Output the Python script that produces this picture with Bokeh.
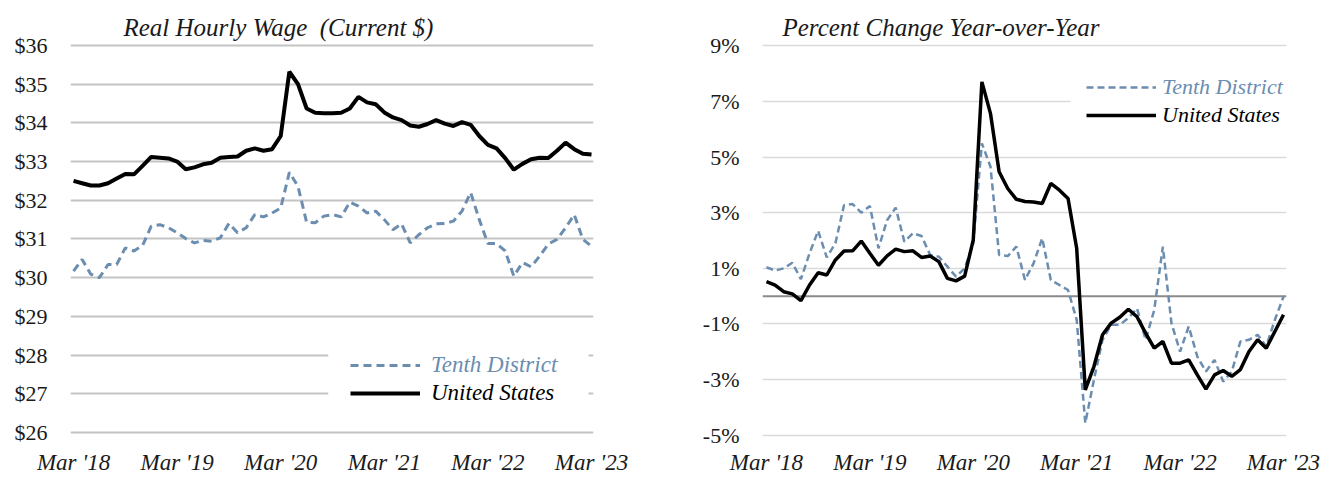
import pandas as pd
from bokeh.plotting import figure
from bokeh.models import (Legend, LegendItem, Span, BoxAnnotation, FixedTicker,
                          PrintfTickFormatter, Range1d)
from bokeh.layouts import row
from bokeh.embed import file_html
from bokeh.resources import INLINE

# ---------------- data ----------------
months = [p.strftime("%b %Y") for p in pd.period_range("2018-03", periods=61, freq="M")]
month_index = list(range(len(months)))
tick_months = [0, 12, 24, 36, 48, 60]
tick_labels = ["Mar '18", "Mar '19", "Mar '20", "Mar '21", "Mar '22", "Mar '23"]

us_wage = [32.50, 32.44, 32.38, 32.38, 32.44, 32.56, 32.68, 32.67, 32.89, 33.12,
           33.10, 33.08, 33.00, 32.80, 32.85, 32.93, 32.97, 33.10, 33.12, 33.13,
           33.28, 33.34, 33.28, 33.32, 33.66, 35.32, 35.00, 34.37, 34.26, 34.25,
           34.25, 34.26, 34.37, 34.67, 34.53, 34.48, 34.27, 34.14, 34.07, 33.93,
           33.90, 33.97, 34.07, 33.98, 33.92, 34.02, 33.95, 33.66, 33.43, 33.34,
           33.09, 32.79, 32.94, 33.06, 33.10, 33.09, 33.28, 33.49, 33.32, 33.20,
           33.18]
tenth_wage = [30.17, 30.47, 30.09, 30.00, 30.34, 30.34, 30.77, 30.69, 30.83, 31.33,
              31.37, 31.29, 31.16, 31.01, 30.90, 30.96, 30.94, 31.03, 31.40, 31.16,
              31.29, 31.63, 31.57, 31.67, 31.80, 32.72, 32.36, 31.43, 31.42, 31.59,
              31.63, 31.57, 31.95, 31.85, 31.67, 31.72, 31.50, 31.24, 31.39, 30.90,
              31.11, 31.29, 31.39, 31.40, 31.46, 31.72, 32.20, 31.50, 30.88, 30.88,
              30.69, 30.04, 30.39, 30.28, 30.56, 30.87, 30.99, 31.29, 31.63, 30.99,
              30.81]
us_pct = [0.52, 0.40, 0.16, 0.08, -0.16, 0.40, 0.84, 0.76, 1.30, 1.62,
          1.63, 1.98, 1.54, 1.11, 1.45, 1.69, 1.60, 1.63, 1.39, 1.44,
          1.24, 0.64, 0.55, 0.72, 2.02, 7.70, 6.56, 4.47, 3.87, 3.48,
          3.40, 3.38, 3.33, 4.05, 3.81, 3.51, 1.72, -3.37, -2.53, -1.39,
          -0.97, -0.76, -0.47, -0.74, -1.33, -1.87, -1.63, -2.41, -2.41, -2.29,
          -2.83, -3.34, -2.83, -2.67, -2.88, -2.64, -1.99, -1.57, -1.87, -1.27,
          -0.67]
tenth_pct = [1.04, 0.92, 1.00, 1.20, 0.61, 1.54, 2.35, 1.39, 1.90, 3.27,
             3.31, 3.00, 3.24, 1.72, 2.73, 3.18, 1.96, 2.26, 2.16, 1.48,
             1.42, 1.06, 0.70, 1.00, 1.90, 5.49, 4.65, 1.48, 1.44, 1.78,
             0.58, 1.18, 2.08, 0.58, 0.40, 0.22, -0.85, -4.56, -3.01, -1.57,
             -1.03, -1.03, -0.79, -0.44, -1.57, -0.50, 1.78, -0.97, -1.99, -1.09,
             -2.17, -2.71, -2.29, -3.07, -2.71, -1.63, -1.57, -1.39, -1.81, -0.85,
             -0.02]

left_ticks = [26, 27, 28, 29, 30, 31, 32, 33, 34, 35, 36]
right_ticks = [-5, -3, -1, 1, 3, 5, 7, 9]

# ---------------- styles ----------------
SERIF = "Liberation Serif"
BLUE = "#6b8db0"
TEXT = "#1a1a1a"


def style(p, yticks, fmt, grid_color, grid_width, x_standoff):
    p.outline_line_color = None
    p.background_fill_color = "white"
    p.border_fill_color = "white"
    p.xgrid.visible = False
    p.ygrid.ticker = FixedTicker(ticks=yticks)
    p.ygrid.grid_line_color = grid_color
    p.ygrid.grid_line_width = grid_width
    for ax in (p.xaxis[0], p.yaxis[0]):
        ax.axis_line_color = None
        ax.major_tick_line_color = None
        ax.minor_tick_line_color = None
        ax.major_tick_out = 0
        ax.major_tick_in = 0
        ax.minor_tick_out = 0
        ax.minor_tick_in = 0
        ax.major_label_text_font = SERIF
        ax.major_label_text_color = TEXT
    p.xaxis.ticker = FixedTicker(ticks=tick_months)
    p.xaxis.major_label_overrides = dict(zip(tick_months, tick_labels))
    p.xaxis.major_label_text_font_style = "italic"
    p.xaxis.major_label_text_font_size = "23px"
    p.xaxis.major_label_text_line_height = 1.0
    p.xaxis.major_label_standoff = x_standoff
    p.yaxis.ticker = FixedTicker(ticks=yticks)
    p.yaxis.formatter = PrintfTickFormatter(format=fmt)
    p.yaxis.major_label_text_font_size = "22px"
    p.yaxis.major_label_standoff = 23
    p.title.text_font = SERIF
    p.title.text_font_style = "italic"
    p.title.text_font_size = "25px"
    p.title.text_color = TEXT
    p.title.align = "left"
    p.title.standoff = 6


def add_legends(p, r_tenth, r_us, x, y_top, standoff, size):
    for i, (lab, rend, col) in enumerate([("Tenth District", r_tenth, BLUE),
                                          ("United States", r_us, "black")]):
        lg = Legend(items=[LegendItem(label=lab, renderers=[rend])],
                    location=(x, y_top - 28 * (i + 1)),
                    orientation="vertical", padding=0, spacing=0, margin=0,
                    glyph_width=70, glyph_height=28, label_height=28,
                    label_standoff=standoff, label_text_font=SERIF,
                    label_text_font_style="italic", label_text_font_size=size,
                    label_text_color=col, border_line_alpha=0,
                    background_fill_alpha=0)
        p.add_layout(lg)


# ---------------- left panel ----------------
p1 = figure(width=650, height=477, output_backend="svg", toolbar_location=None,
            title="Real Hourly Wage\u00a0\u00a0(Current $)",
            x_range=Range1d(-0.35, 60.23), y_range=Range1d(25.871, 36.05),
            min_border_left=70, min_border_right=57, min_border_top=43,
            min_border_bottom=39)
style(p1, left_ticks, "$%d", "#c4c4c4", 2, 12)
p1.title.offset = 53
t1 = p1.line(month_index, tenth_wage, line_color=BLUE, line_width=3, line_dash="8 5")
u1 = p1.line(month_index, us_wage, line_color="black", line_width=4)
p1.add_layout(BoxAnnotation(left=29.5, right=59.65, bottom=26.6, top=28.3,
                            fill_color="white", fill_alpha=1, line_alpha=0))
add_legends(p1, t1, u1, 280, 86, 11, "23px")

# ---------------- right panel ----------------
p2 = figure(width=682, height=477, output_backend="svg", toolbar_location=None,
            title="Percent Change Year-over-Year",
            x_range=Range1d(-0.46, 60.35), y_range=Range1d(-5.08, 9.08),
            min_border_left=112, min_border_right=46, min_border_top=43,
            min_border_bottom=39)
style(p2, right_ticks, "%d%%", "#dadada", 1.5, 12)
p2.title.offset = 20
p2.add_layout(Span(location=0, dimension="width", line_color="#8a8a8a",
                   line_width=2, level="underlay"))
t2 = p2.line(month_index, tenth_pct, line_color=BLUE, line_width=2.5, line_dash="7 4")
u2 = p2.line(month_index, us_pct, line_color="black", line_width=3.5)
p2.add_layout(BoxAnnotation(left=35.3, bottom=6.1, top=7.9,
                            fill_color="white", fill_alpha=1, line_alpha=0))
add_legends(p2, t2, u2, 324, 364, 6, "22px")

layout = row(p1, p2)
open("out.html", "w").write(file_html(layout, INLINE))
